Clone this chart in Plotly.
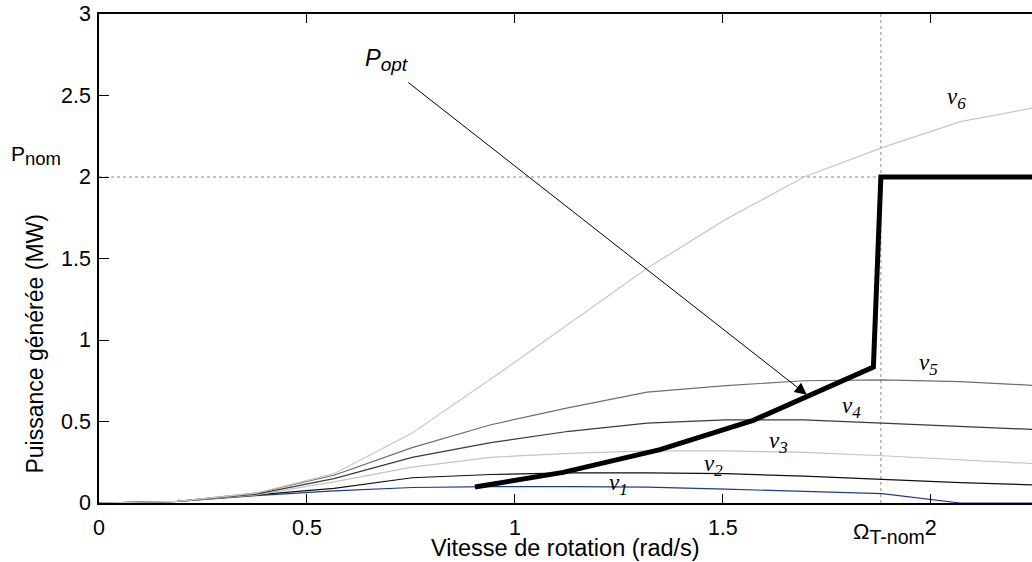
import plotly.graph_objects as go

# ---- data ----
omega = [0.0, 0.188, 0.377, 0.565, 0.753, 0.942, 1.130, 1.318, 1.507, 1.695, 1.883, 2.071, 2.260]
p_v1 = [0.0, 0.010, 0.045, 0.075, 0.095, 0.100, 0.100, 0.097, 0.085, 0.072, 0.057, 0.0, 0.0]
p_v2 = [0.0, 0.010, 0.050, 0.090, 0.155, 0.175, 0.185, 0.185, 0.180, 0.165, 0.145, 0.125, 0.110]
p_v3 = [0.0, 0.010, 0.050, 0.130, 0.220, 0.280, 0.305, 0.320, 0.320, 0.310, 0.290, 0.265, 0.240]
p_v4 = [0.0, 0.010, 0.055, 0.150, 0.280, 0.370, 0.440, 0.490, 0.510, 0.510, 0.490, 0.470, 0.450]
p_v5 = [0.0, 0.010, 0.060, 0.170, 0.340, 0.480, 0.585, 0.680, 0.720, 0.750, 0.755, 0.745, 0.720]
p_v6 = [0.0, 0.010, 0.060, 0.180, 0.430, 0.760, 1.100, 1.440, 1.740, 2.000, 2.180, 2.340, 2.430]

opt_x = [0.904, 1.116, 1.349, 1.573, 1.862, 1.880, 2.300]
opt_y = [0.098, 0.188, 0.327, 0.507, 0.834, 2.000, 2.000]

omega_nom = 1.88
p_nom = 2.0

series_names = ["v1", "v2", "v3", "v4", "v5", "v6"]
series_values = [p_v1, p_v2, p_v3, p_v4, p_v5, p_v6]
series_colors = ["#1c3a8c", "#111111", "#c4c4c4", "#3a3a3a", "#6e6e6e", "#cbc7bd"]

# label anchor positions (data coords, left edge of the "v")
label_x = [1.222, 1.450, 1.606, 1.782, 1.967, 2.034]
label_y = [0.115, 0.232, 0.372, 0.588, 0.851, 2.483]

x_ticks = [0, 0.5, 1, 1.5, 2]
x_tick_text = ["0", "0.5", "1", "1.5", "2"]
y_ticks = [0, 0.5, 1, 1.5, 2, 2.5, 3]
y_tick_text = ["0", "0.5", "1", "1.5", "2", "2.5", "3"]

SANS = "Liberation Sans, Arial, sans-serif"
SERIF = "Liberation Serif, Times New Roman, serif"


def sub(txt, size):
    return f"<sub><span style='font-size:{size}px'>{txt}</span></sub>"


fig = go.Figure()

# reference dotted lines
fig.add_trace(go.Scatter(x=[0, omega_nom], y=[p_nom, p_nom], mode="lines",
                         line=dict(color="#8a8a8a", width=1, dash="dot"), hoverinfo="skip"))
fig.add_trace(go.Scatter(x=[omega_nom, omega_nom], y=[0, 3], mode="lines",
                         line=dict(color="#8a8a8a", width=1, dash="dot"), hoverinfo="skip"))

for name, vals, col in zip(series_names, series_values, series_colors):
    fig.add_trace(go.Scatter(x=omega, y=vals, mode="lines", name=name,
                             line=dict(color=col, width=1.2)))

fig.add_trace(go.Scatter(x=opt_x, y=opt_y, mode="lines", name="P_opt",
                         line=dict(color="black", width=5)))

annotations = []
for i, (lx, ly) in enumerate(zip(label_x, label_y)):
    annotations.append(dict(
        x=lx, y=ly, xref="x", yref="y", xanchor="left", yanchor="middle",
        text="<i>v</i>" + sub(f"<i>{i+1}</i>", 17),
        showarrow=False, font=dict(family=SERIF, size=23, color="black")))

# y tick labels (placed through the y scale)
for val, txt in zip(y_ticks, y_tick_text):
    annotations.append(dict(
        x=0, y=val, xref="paper", yref="y", xanchor="right", yanchor="middle",
        xshift=-6, text=txt, showarrow=False,
        font=dict(family=SANS, size=21.5, color="black")))

# P_opt label and arrow
annotations.append(dict(
    x=0.634, y=2.72, xref="x", yref="y", xanchor="left", yanchor="middle",
    text="<i>P</i>" + sub("<i>opt</i>", 19),
    showarrow=False, font=dict(family=SANS, size=23.5, color="black")))
annotations.append(dict(
    x=1.702, y=0.664, ax=0.740, ay=2.587, xref="x", yref="y", axref="x", ayref="y",
    text="", showarrow=True, arrowhead=2, arrowsize=2.4, arrowwidth=1, arrowcolor="black"))

# P_nom label
annotations.append(dict(
    x=0, y=p_nom, xref="paper", yref="y", xanchor="right", yanchor="middle",
    xshift=-36, yshift=22,
    text="P" + sub("nom", 18.5),
    showarrow=False, font=dict(family=SANS, size=21, color="black")))

# Omega_T-nom label
annotations.append(dict(
    x=omega_nom, y=0, xref="x", yref="paper", xanchor="center", yanchor="top",
    xshift=8, yshift=-14,
    text="\u03a9" + sub("T-nom", 19.5),
    showarrow=False, font=dict(family=SANS, size=22, color="black")))

# axis titles
annotations.append(dict(
    x=0.5, y=-0.093, xref="paper", yref="paper", xanchor="center", yanchor="middle",
    text="Vitesse de rotation (rad/s)", showarrow=False,
    font=dict(family=SANS, size=23.5, color="black")))
annotations.append(dict(
    x=-0.0686, y=0.326, xref="paper", yref="paper", xanchor="center", yanchor="middle",
    text="Puissance générée (MW)", textangle=-90, showarrow=False,
    font=dict(family=SANS, size=23, color="black")))

fig.update_layout(
    width=1032, height=562,
    margin=dict(l=99, r=0, t=14, b=59),
    paper_bgcolor="white", plot_bgcolor="white",
    showlegend=False,
    annotations=annotations,
    font=dict(family=SANS, size=21.5, color="black"),
)
fig.update_xaxes(range=[0, 2.2434], tickvals=x_ticks, ticktext=x_tick_text,
                 ticks="inside", ticklen=9, tickcolor="black", showline=True, linecolor="black",
                 linewidth=1.5, mirror="ticks", showgrid=False, zeroline=False,
                 ticklabelstandoff=4,
                 tickfont=dict(family=SANS, size=21.5, color="black"))
fig.update_yaxes(range=[0, 3], tickvals=y_ticks, showticklabels=False,
                 ticks="inside", ticklen=10, tickcolor="black", showline=True, linecolor="black",
                 linewidth=1.5, mirror=False, showgrid=False, zeroline=False)

fig.write_html("out.html", config={"displayModeBar": False},
               post_script="document.body.style.margin='0px';")
